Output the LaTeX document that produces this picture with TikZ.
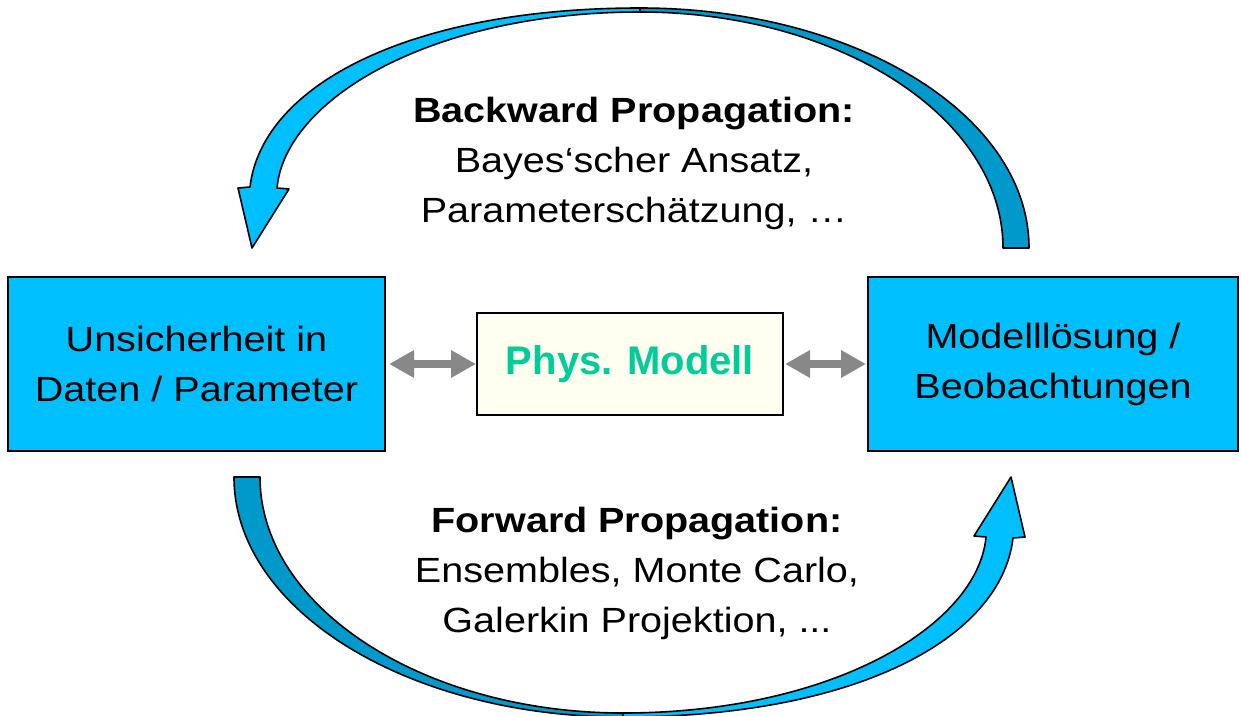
\documentclass[tikz,border=0pt]{standalone}
\usepackage{fontspec}
\setmainfont{Liberation Sans}[FakeStretch=1.13]
\newfontfamily\physfont{Liberation Sans}
\usetikzlibrary{arrows.meta,positioning}
\definecolor{boxblue}{RGB}{0,191,255}
\definecolor{backblue}{RGB}{0,153,204}
\definecolor{modelfill}{RGB}{255,255,240}
\definecolor{modelgreen}{RGB}{0,204,153}
\definecolor{linkgray}{RGB}{136,136,136}

\begin{document}
\begin{tikzpicture}[x=1pt, y=-1pt,
  box/.style={draw, line width=2pt, fill=boxblue, minimum height=174pt,
    align=center, font=\fontsize{35}{50}\selectfont},
  model/.style={draw, line width=2pt, fill=modelfill, minimum width=306pt,
    minimum height=102pt, font=\physfont\bfseries\fontsize{40}{48}\selectfont,
    text=modelgreen},
  txt/.style={align=center, font=\fontsize{35}{50}\selectfont},
  link/.style={{Triangle[length=25pt,width=26pt]}-{Triangle[length=25pt,width=26pt]},
    line width=8pt, draw=linkgray},
  back/.style={fill=backblue, draw=black, line width=1.6pt, line join=round},
  front/.style={fill=boxblue, draw=black, line width=1.6pt, line join=round}
]
  \useasboundingbox (0,0) rectangle (1241,715);

  \foreach \r in {0,180} {
    \begin{scope}[rotate around={\r:(631.5,362.5)}]
      \filldraw[back] (1029,248) .. controls (1029,115) and (855,8) .. (640,8)
        -- (640,12) .. controls (840,12) and (1003,118) .. (1003,248) -- cycle;
      \filldraw[front] (640,12) .. controls (430,12) and (285,100) .. (277,188)
        -- (289,189) -- (252,248) -- (238,188) -- (250,187)
        .. controls (262,85) and (410,8) .. (640,8) -- cycle;
    \end{scope}
  }

  \node[box, minimum width=377pt] (daten) at (196.5,364) {Unsicherheit in\\Daten / Parameter};
  \node[box, minimum width=370pt] (loesung) at (1053,364) {Modelllösung /\\Beobachtungen};
  \node[model] (modell) at (630,364) {Phys. Modell};

  \node[txt] (bwd) at (634,163) {\textbf{Backward Propagation:}\\Bayes‘scher Ansatz,\\Parameterschätzung, …};
  \node[txt] (fwd) at (637,573) {\textbf{Forward Propagation:}\\Ensembles, Monte Carlo,\\Galerkin Projektion, ...};

  \draw[link, shorten <=3pt] (daten.east) -- (modell.west);
  \draw[link, shorten <=1pt, shorten >=1pt] (modell.east) -- (loesung.west);
\end{tikzpicture}
\end{document}
